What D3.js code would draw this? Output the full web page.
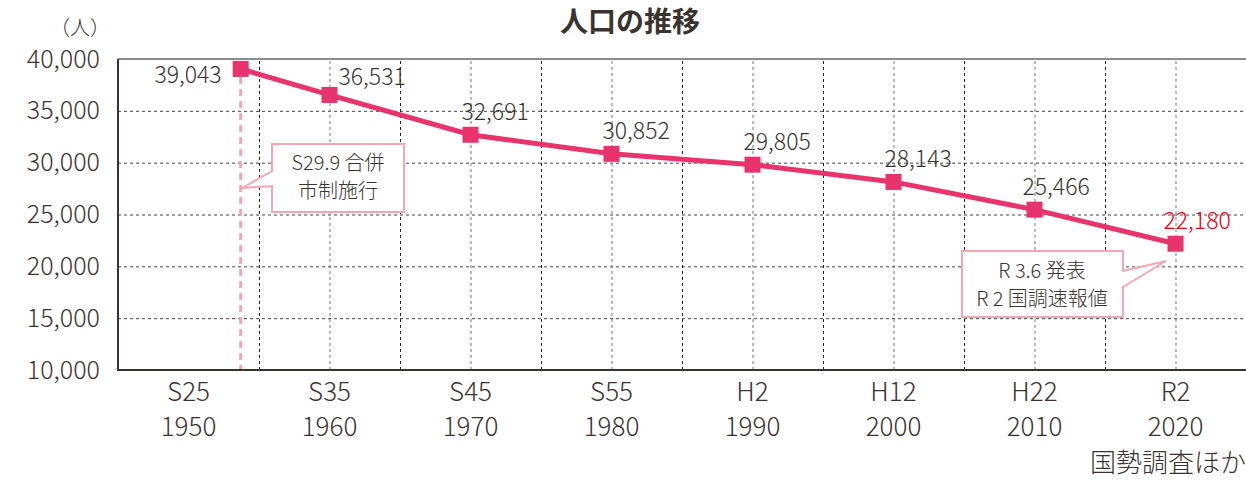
<!DOCTYPE html>
<html>
<head>
<meta charset="utf-8">
<script src="https://cdn.jsdelivr.net/npm/d3@7"></script>
<style>
  body { margin: 0; background: #fff; }
  text { font-family: "Noto Sans CJK JP", "Noto Sans", sans-serif; font-weight: 300; fill: #3a3330; }
</style>
</head>
<body>
<div id="chart"></div>
<script>
// Data
var eraLabels = ["S25", "S35", "S45", "S55", "H2", "H12", "H22", "R2"];
var yearLabels = [1950, 1960, 1970, 1980, 1990, 2000, 2010, 2020];
var pointYears = [1953.7, 1960, 1970, 1980, 1990, 2000, 2010, 2020];
var population = [39043, 36531, 32691, 30852, 29805, 28143, 25466, 22180];
var yTicks = [10000, 15000, 20000, 25000, 30000, 35000, 40000];

// Set up chart
var svgWidth = 1246;
var svgHeight = 480;
var margin = {top: 59, right: 0, bottom: 110, left: 118};
var width = svgWidth - margin.left - margin.right;
var height = svgHeight - margin.top - margin.bottom;

var pink = "#e8336d";
var lightPink = "#f4a6b7";

var svg = d3.select("#chart")
  .append("svg")
  .attr("width", svgWidth)
  .attr("height", svgHeight);

var chart = svg.append("g")
  .attr("transform", `translate(${margin.left}, ${margin.top})`);

// Scales
var xScale = d3.scaleLinear().domain([1945, 2025]).range([0, width]);
var yScale = d3.scaleLinear().domain([10000, 40000]).range([height, 0]);

// Horizontal grid
chart.append("g")
  .call(d3.axisLeft(yScale).tickValues(yTicks.slice(1, -1)).tickSize(-width).tickFormat(""))
  .call(g => g.select(".domain").remove())
  .selectAll("line")
  .attr("stroke", "#444")
  .attr("stroke-dasharray", "3,3");

// Vertical grid: band boundaries and centers
var boundaries = yearLabels.slice(0, -1).map(d => d + 5);
chart.append("g")
  .attr("transform", `translate(0, ${height})`)
  .call(d3.axisBottom(xScale).tickValues(boundaries).tickSize(-height).tickFormat(""))
  .call(g => g.select(".domain").remove())
  .selectAll("line")
  .attr("stroke", "#222")
  .attr("stroke-dasharray", "3,3");

chart.append("g")
  .attr("transform", `translate(0, ${height})`)
  .call(d3.axisBottom(xScale).tickValues(yearLabels.slice(1)).tickSize(-height).tickFormat(""))
  .call(g => g.select(".domain").remove())
  .selectAll("line")
  .attr("stroke", "#777")
  .attr("stroke-dasharray", "3,3");

// Merger marker line
chart.append("line")
  .attr("x1", xScale(pointYears[0]))
  .attr("x2", xScale(pointYears[0]))
  .attr("y1", yScale(population[0]) + 8)
  .attr("y2", height)
  .attr("stroke", lightPink)
  .attr("stroke-width", 3)
  .attr("stroke-dasharray", "7,5");

// Frame
chart.append("line")
  .attr("x1", 0).attr("x2", width).attr("y1", 0).attr("y2", 0)
  .attr("stroke", "#666").attr("stroke-width", 1.5);
chart.append("path")
  .attr("d", `M0,0V${height}H${width}`)
  .attr("fill", "none")
  .attr("stroke", "#3a3330")
  .attr("stroke-width", 2);

// Y axis labels
chart.append("g")
  .call(d3.axisLeft(yScale).tickValues(yTicks).tickSize(0).tickPadding(18).tickFormat(d3.format(",")))
  .call(g => g.select(".domain").remove())
  .selectAll("text")
  .style("font-size", "25px")
  .attr("fill", "#3a3330");

// X axis labels (two lines)
var xLabels = chart.append("g")
  .selectAll("text")
  .data(yearLabels)
  .enter()
  .append("text")
  .attr("text-anchor", "middle")
  .style("font-size", "26px");

xLabels.append("tspan")
  .attr("x", d => xScale(d))
  .attr("y", height + 31)
  .text((d, i) => eraLabels[i]);

xLabels.append("tspan")
  .attr("x", d => xScale(d))
  .attr("y", height + 66)
  .text(d => d);

// Line
var points = pointYears.map((d, i) => ({year: d, value: population[i]}));

chart.append("path")
  .datum(points)
  .attr("fill", "none")
  .attr("stroke", pink)
  .attr("stroke-width", 5)
  .attr("d", d3.line().x(d => xScale(d.year)).y(d => yScale(d.value)));

chart.selectAll(".marker")
  .data(points)
  .enter()
  .append("rect")
  .attr("class", "marker")
  .attr("x", d => xScale(d.year) - 8)
  .attr("y", d => yScale(d.value) - 8)
  .attr("width", 16)
  .attr("height", 16)
  .attr("fill", pink);

// Value labels
chart.selectAll(".vlabel")
  .data(points)
  .enter()
  .append("text")
  .attr("class", "vlabel")
  .style("font-size", "23px")
  .attr("text-anchor", (d, i) => i == 0 ? "end" : "start")
  .attr("x", function(d, i) {
    if (i == 0) return xScale(d.year) - 19;
    if (i == 1) return xScale(d.year) + 9;
    if (i >= 6) return xScale(d.year) - 12;
    return xScale(d.year) - 9;
  })
  .attr("y", function(d, i) {
    if (i == 0) return yScale(d.value) + 14;
    if (i == 1) return yScale(d.value) - 10;
    return yScale(d.value) - 15;
  })
  .style("fill", (d, i) => i == points.length - 1 ? "#e60012" : "#3a3330")
  .text(d => d3.format(",")(d.value));

// Callout boxes
function callout(pathD, cx, lines, baselines) {
  chart.append("path")
    .attr("d", pathD)
    .attr("fill", "#fff")
    .attr("stroke", lightPink)
    .attr("stroke-width", 2);
  lines.forEach(function(t, i) {
    chart.append("text")
      .attr("x", cx)
      .attr("y", baselines[i])
      .attr("text-anchor", "middle")
      .style("font-size", "20px")
      .text(t);
  });
}

var m = margin;
callout(`M${272 - m.left},${144 - m.top}H${404 - m.left}V${212 - m.top}H${272 - m.left}V${186 - m.top}L${242 - m.left},${188 - m.top}L${272 - m.left},${171 - m.top}Z`,
  338 - m.left, ["S29.9 合併", "市制施行"], [170 - m.top, 198 - m.top]);

callout(`M${962 - m.left},${251 - m.top}H${1123 - m.left}V${271 - m.top}L${1166 - m.left},${261 - m.top}L${1123 - m.left},${287 - m.top}V${317 - m.top}H${962 - m.left}Z`,
  1042 - m.left, ["R 3.6 発表", "R 2 国調速報値"], [278 - m.top, 306 - m.top]);

// Title, unit, source
svg.append("text")
  .attr("x", 630)
  .attr("y", 32)
  .attr("text-anchor", "middle")
  .style("font-size", "28px")
  .style("font-weight", "bold")
  .text("人口の推移");

svg.append("text")
  .attr("x", 110)
  .attr("y", 35)
  .attr("text-anchor", "end")
  .style("font-size", "20px")
  .text("（人）");

svg.append("text")
  .attr("x", 1246)
  .attr("y", 472)
  .attr("text-anchor", "end")
  .style("font-size", "26px")
  .text("国勢調査ほか");
</script>
</body>
</html>
